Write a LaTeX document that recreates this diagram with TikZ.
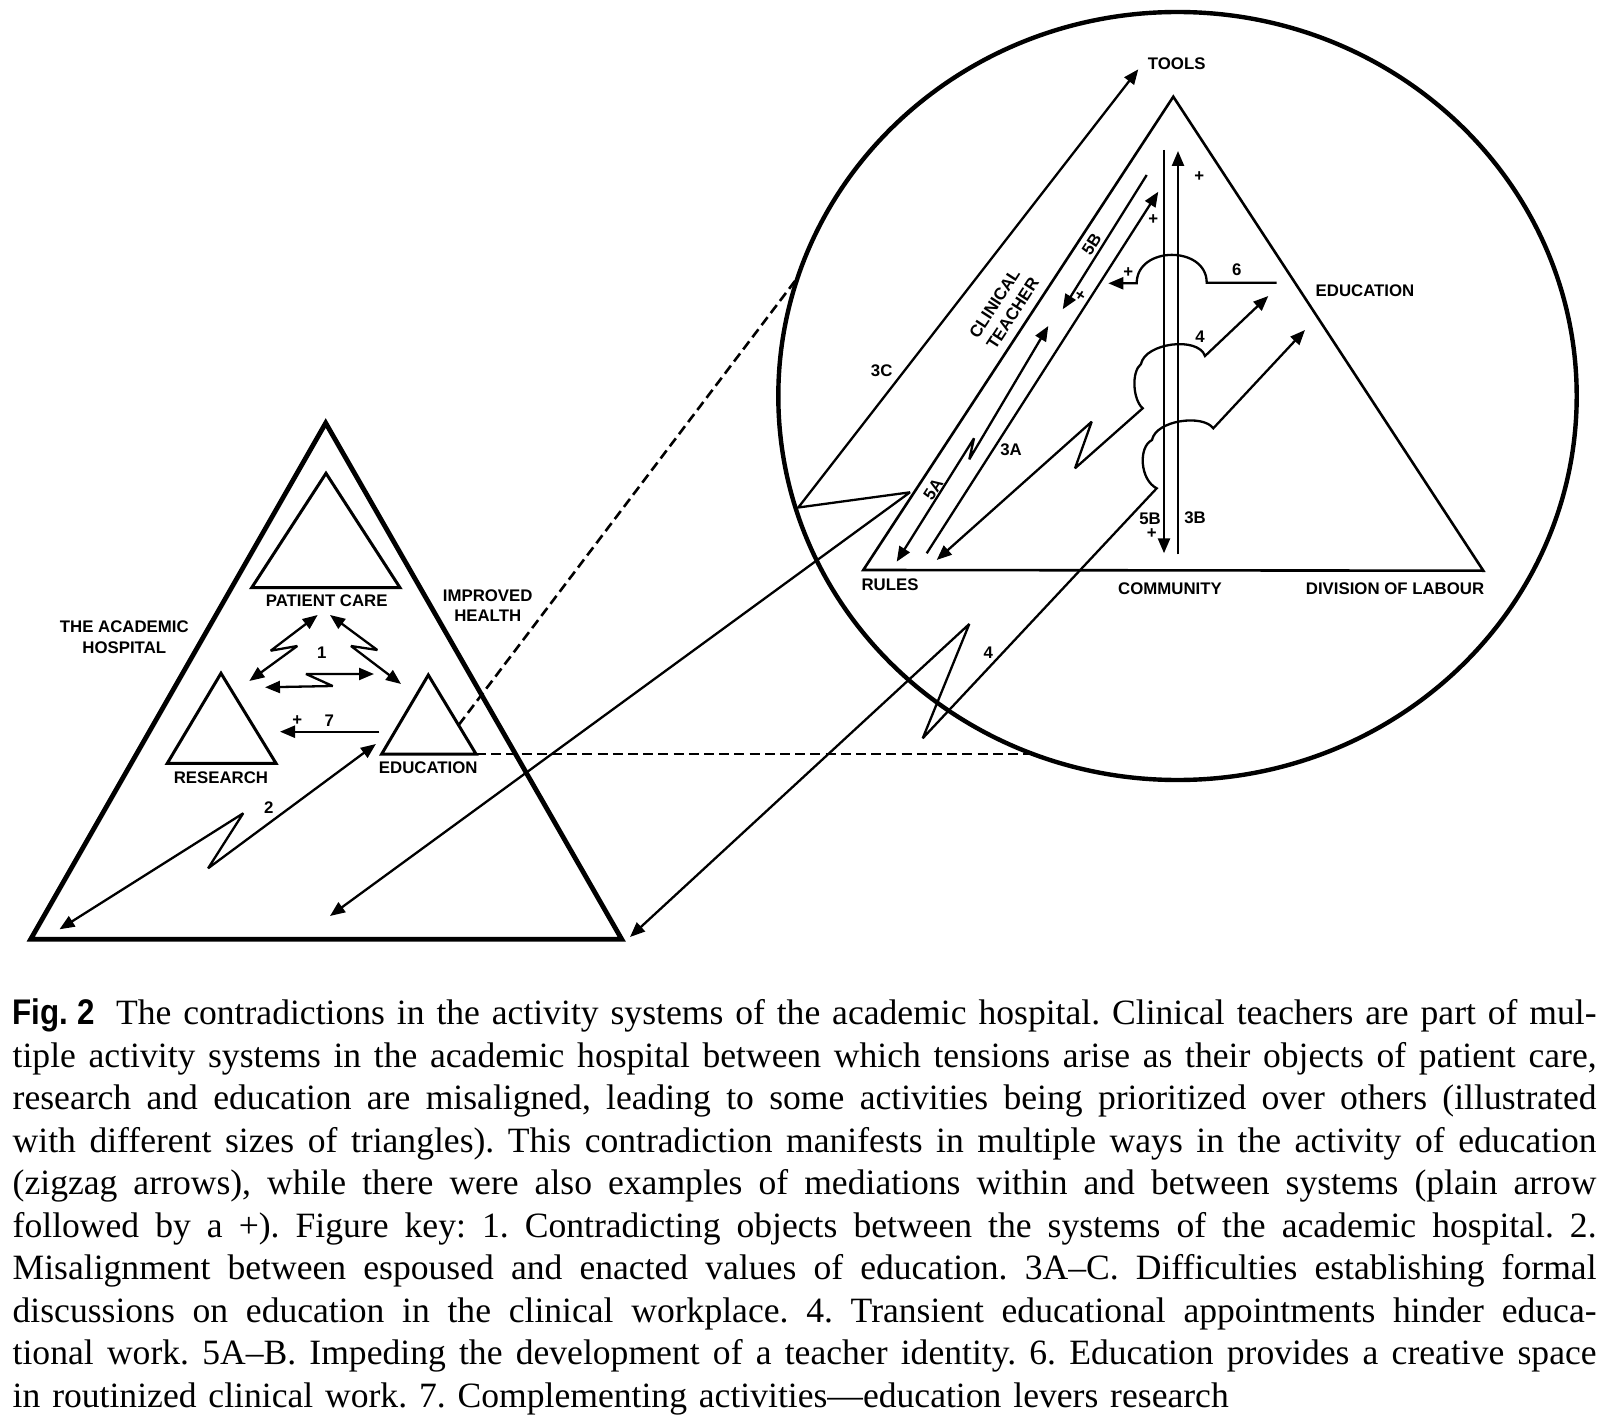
\documentclass[tikz,border=0pt]{standalone}
\usepackage{fontspec}
\setmainfont{Liberation Serif}
\setsansfont{Liberation Sans}
\newfontfamily\figfont[FakeStretch=0.88]{Liberation Sans}
\usetikzlibrary{arrows.meta, positioning}

\tikzset{
  lbl/.style={font=\sffamily\bfseries\fontsize{8.4}{10.4}\selectfont, inner sep=0pt, align=center},
  conn/.style={line width=1.15pt, line join=miter, miter limit=3},
  arr/.style={-{Triangle[length=7.5pt,width=6pt]}},
  darr/.style={{Triangle[length=7.5pt,width=6pt]}-{Triangle[length=7.5pt,width=6pt]}},
  dashlink/.style={line width=1.3pt, dash pattern=on 5pt off 2.6pt},
  hosptri/.style={line width=2.4pt, line join=miter},
  systri/.style={line width=1.5pt, line join=miter},
  acttri/.style={line width=1.3pt, line join=miter},
}
\newcommand{\capline}[1]{\noindent\hbox to 791.9pt{\spaceskip=.25em plus .8em minus .09em\relax #1}\par}

\begin{document}
\begin{tikzpicture}[x=0.5pt, y=-0.5pt]
\useasboundingbox (0,0) rectangle (1606,1428);

% academic hospital
\coordinate (hTop) at (325.7,423);
\coordinate (hL) at (30.7,939.2);
\coordinate (hR) at (621.7,939.2);
\draw[hosptri] (hTop) -- (hL) -- (hR) -- cycle;
\draw[systri] (326,473.3) -- (251.7,587.7) -- (400,587.7) -- cycle; %PC
\draw[systri] (221,673.3) -- (167.3,763.3) -- (276,763.3) -- cycle; %R
\coordinate (eduR) at (476,754);
\coordinate (eduSide) at (458.7,725);
\draw[systri] (428.3,675) -- (381.7,754) -- (eduR) -- cycle; %E

\node[lbl] (pc) at (326.7,601) {PATIENT CARE};
\node[lbl] (rs) at (221,777.3) {RESEARCH};
\node[lbl] (ed) at (428.3,767.3) {EDUCATION};
\node[lbl] (hosp) at (124.3,637.3) {THE ACADEMIC\\HOSPITAL};
\node[lbl] (health) at (487.7,605.7) {IMPROVED\\HEALTH};
\node[lbl] (k1) at (321.7,652.3) {1};
\node[lbl] (p7) at (297.3,720.7) {+};
\node[lbl] (k7) at (329.3,720.7) {7};
\node[lbl] (k2) at (268.7,807.3) {2};

% 1
\coordinate (z1t) at (317.7,615);
\coordinate (z1a) at (270.7,650.7);
\coordinate (z1b) at (297.3,646);
\coordinate (z1e) at (249.3,681);
\draw[conn,darr] (z1t) -- (z1a) -- (z1b) -- (z1e);
\coordinate (z2t) at (330,615);
\coordinate (z2a) at (377.3,650);
\coordinate (z2b) at (351,646);
\coordinate (z2e) at (401,684);
\draw[conn,darr] (z2t) -- (z2a) -- (z2b) -- (z2e);
\coordinate (z3r) at (374,674);
\coordinate (z3a) at (306,674);
\coordinate (z3b) at (332.7,686);
\coordinate (z3l) at (265,687.3);
\draw[conn,darr] (z3r) -- (z3a) -- (z3b) -- (z3l);
% 7
\coordinate (a7s) at (379.3,731.7);
\coordinate (a7e) at (280,731.7);
\draw[conn,arr] (a7s) -- (a7e);
% 2
\coordinate (a2l) at (59.5,929.3);
\coordinate (a2p) at (243.2,813.3);
\coordinate (a2t) at (208.1,868.3);
\coordinate (a2r) at (375.9,744);
\draw[conn,darr] (a2l) -- (a2p) -- (a2t) -- (a2r);

% zoom circle
\coordinate (lens) at (1177.5,396);
\draw[line width=2.2pt] (lens) ellipse [x radius=399.2, y radius=384];
\coordinate (lensA) at (797.8,277.3);
\coordinate (lensB) at (1030,754);
\draw[dashlink] (eduSide) -- (lensA);
\draw[dashlink] (eduR) -- (lensB);

% activity system of education
\coordinate (tTop) at (1173.3,96.7);
\coordinate (tL) at (863.3,570);
\coordinate (tR) at (1483.3,570.7);
\draw[acttri] (tTop) -- (tL) -- (tR) -- cycle;

\node[lbl] (tools) at (1176.7,63.3) {TOOLS};
\node[lbl] (object) at (1365,290.7) {EDUCATION};
\node[lbl] (rules) at (890,585) {RULES};
\node[lbl] (community) at (1170,588.3) {COMMUNITY};
\node[lbl] (labour) at (1395,588.3) {DIVISION OF LABOUR};
\node[lbl, rotate=57, align=left] (subject) at (1004,308) {CLINICAL\\TEACHER};

% 3C
\coordinate (c3l) at (330,916);
\coordinate (c3p) at (910,492.3);
\coordinate (c3t) at (798.3,507.5);
\coordinate (c3e) at (1138.3,69.3);
\draw[conn,darr] (c3l) -- (c3p) -- (c3t) -- (c3e);
\node[lbl] (k3c) at (881.7,370.7) {3C};

% 4 (long)
\coordinate (f4l) at (630,937);
\coordinate (f4p) at (969.3,624);
\coordinate (f4t) at (922.7,738.3);
\coordinate (f4h) at (1156.7,488.3);
\coordinate (f4m) at (1152,440);
\coordinate (f4k) at (1213.3,428.3);
\coordinate (f4e) at (1305,330);
\draw[conn,darr] (f4l) -- (f4p) -- (f4t) -- (f4h)
  .. controls (1140,480) and (1138,447) .. (f4m)
  .. controls (1156,420) and (1203,414) .. (f4k) -- (f4e);
\node[lbl] (k4a) at (988.3,652.4) {4};

% 4 (inner)
\coordinate (g4l) at (936.7,560);
\coordinate (g4p) at (1091.7,421.7);
\coordinate (g4t) at (1075,468.3);
\coordinate (g4h) at (1142.7,408.3);
\coordinate (g4m) at (1141,364);
\coordinate (g4k) at (1205,356);
\coordinate (g4e) at (1268.3,296);
\draw[conn,darr] (g4l) -- (g4p) -- (g4t) -- (g4h)
  .. controls (1133,400) and (1131,372) .. (g4m)
  .. controls (1145,343) and (1198,336) .. (g4k) -- (g4e);
\node[lbl] (k4b) at (1200,336.7) {4};

% 6
\coordinate (s6) at (1276.7,282.7);
\coordinate (s6a) at (1206.7,282.7);
\coordinate (s6b) at (1136.7,283.3);
\coordinate (s6e) at (1108.3,283.3);
\draw[conn,arr] (s6) -- (s6a) .. controls (1206.7,245.5) and (1136.7,245.5) .. (s6b) -- (s6e);
\node[lbl] (k6) at (1236.7,270) {6};
\node[lbl] (p6) at (1128.3,272.7) {+};

% 3B and 5B
\coordinate (v5t) at (1164,150);
\coordinate (v5b) at (1164,553.3);
\draw[conn,arr,line width=1.25pt] (v5t) -- (v5b);
\coordinate (v3b) at (1178,554.3);
\coordinate (v3t) at (1178,151);
\draw[conn,arr,line width=1.25pt] (v3b) -- (v3t);
\node[lbl] (k5bv) at (1150,519.3) {5B};
\node[lbl] (p5bv) at (1151.7,533.3) {+};
\node[lbl] (k3b) at (1195,517.7) {3B};
\node[lbl] (p3b) at (1199.3,176.7) {+};

% 5B diagonal
\coordinate (d5t) at (1146.7,175);
\coordinate (d5e) at (1062.7,309.3);
\draw[conn,arr] (d5t) -- (d5e);
\node[lbl, rotate=57] (k5bd) at (1091.7,244) {5B};
\node[lbl, rotate=57] (p5bd) at (1081,296) {+};

% 3A
\coordinate (a3s) at (926.7,553.3);
\coordinate (a3e) at (1158.3,191.7);
\draw[conn,arr] (a3s) -- (a3e);
\node[lbl] (k3a) at (1011,450) {3A};
\node[lbl] (p3a) at (1153.3,220) {+};

% 5A
\coordinate (b5l) at (896.7,561.7);
\coordinate (b5p) at (974,438.3);
\coordinate (b5t) at (969.3,459.3);
\coordinate (b5e) at (1048.3,326);
\draw[conn,darr] (b5l) -- (b5p) -- (b5t) -- (b5e);
\node[lbl, rotate=57] (k5a) at (933.3,489.3) {5A};

% caption
\node[anchor=north west, inner sep=0pt, text width=791.9pt,
  font=\fontsize{17.8}{21.26}\selectfont\frenchspacing] (caption) at (12.3,998.5) {%
\capline{{\figfont\bfseries Fig.\kern0.25em2}\kern0.6em The contradictions in the activity systems of the academic hospital. Clinical teachers are part of mul-}
\capline{tiple activity systems in the academic hospital between which tensions arise as their objects of patient care,}
\capline{research and education are misaligned, leading to some activities being prioritized over others (illustrated}
\capline{with different sizes of triangles). This contradiction manifests in multiple ways in the activity of education}
\capline{(zigzag arrows), while there were also examples of mediations within and between systems (plain arrow}
\capline{followed by a +). Figure key: 1. Contradicting objects between the systems of the academic hospital. 2.}
\capline{Misalignment between espoused and enacted values of education. 3A–C. Difficulties establishing formal}
\capline{discussions on education in the clinical workplace. 4. Transient educational appointments hinder educa-}
\capline{tional work. 5A–B. Impeding the development of a teacher identity. 6. Education provides a creative space}
\noindent in routinized clinical work. 7. Complementing activities—education levers research};
\end{tikzpicture}
\end{document}
